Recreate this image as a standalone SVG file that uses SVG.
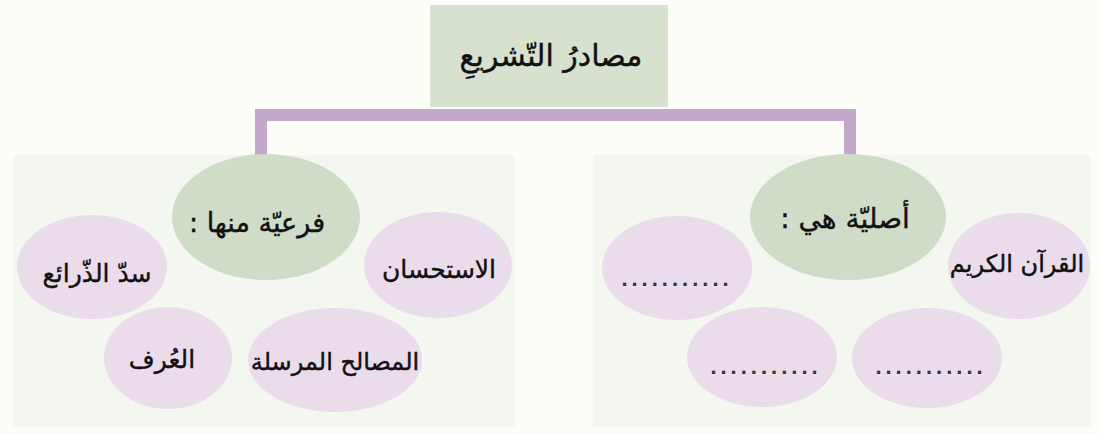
<svg xmlns="http://www.w3.org/2000/svg" width="1100" height="434" viewBox="0 0 1100 434">
<style>
.bg{fill:#fdfdf8}
.panel{fill:#f3f7ef}
.head{fill:#d6e1d0}
.green{fill:#cfdcc8}
.pink{fill:#eadcea}
.conn{fill:none;stroke:#c3a8cc;stroke-width:12}
.t{font-family:"DejaVu Sans",sans-serif;fill:#111;stroke:#111;stroke-width:0.4;text-anchor:middle;direction:rtl}
.dots{font-family:"Liberation Sans",sans-serif;fill:#333;text-anchor:middle;font-size:22px;font-weight:bold;letter-spacing:4px}
</style>
<rect class="bg" x="0" y="0" width="1100" height="434"/>
<g id="panel-left"><rect class="panel" x="13" y="155" width="502" height="272"/></g>
<g id="panel-right"><rect class="panel" x="593" y="155" width="498" height="272"/></g>
<g id="connectors">
<path class="conn" d="M261,156 V115 H850 V156"/>
</g>
<g id="root"><rect class="head" x="430" y="5" width="238" height="102"/>
<text class="t" x="551" y="66" font-size="30">مصادرُ التّشريعِ</text></g>
<g id="far"><ellipse class="green" cx="266" cy="217" rx="94" ry="63"/>
<text class="t" x="257" y="232" font-size="27">فرعيّة منها :</text></g>
<g id="istihsan"><ellipse class="pink" cx="438" cy="265" rx="74" ry="53"/>
<text class="t" x="439" y="278" font-size="25">الاستحسان</text></g>
<g id="sadd"><ellipse class="pink" cx="92" cy="267" rx="75" ry="52"/>
<text class="t" x="97" y="282" font-size="25">سدّ الذّرائع</text></g>
<g id="masalih"><ellipse class="pink" cx="335" cy="360" rx="87" ry="52"/>
<text class="t" x="335" y="370" font-size="24">المصالح المرسلة</text></g>
<g id="urf"><ellipse class="pink" cx="168" cy="358" rx="64" ry="51"/>
<text class="t" x="162" y="368" font-size="25">العُرف</text></g>
<g id="asl"><ellipse class="green" cx="848" cy="217" rx="98" ry="63"/>
<text class="t" x="845" y="228" font-size="28">أصليّة هي :</text></g>
<g id="quran"><ellipse class="pink" cx="1019" cy="266" rx="71" ry="53"/>
<text class="t" x="1017" y="272" font-size="24">القرآن الكريم</text></g>
<g id="blank1"><ellipse class="pink" cx="677" cy="268" rx="75" ry="52"/>
<text class="dots" x="677" y="286">...........</text></g>
<g id="blank2"><ellipse class="pink" cx="762" cy="357" rx="75" ry="50"/>
<text class="dots" x="766" y="374">...........</text></g>
<g id="blank3"><ellipse class="pink" cx="927" cy="358" rx="75" ry="50"/>
<text class="dots" x="931" y="374">...........</text></g>
</svg>
